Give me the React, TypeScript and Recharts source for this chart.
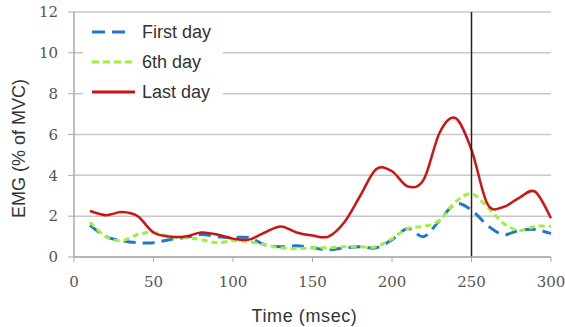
import React from 'react';
import { LineChart, Line, XAxis, YAxis, CartesianGrid, ReferenceLine, Legend } from 'recharts';

const times = [10, 20, 30, 40, 50, 60, 70, 80, 90, 100, 110, 120, 130, 140, 150, 160, 170, 180, 190, 200, 210, 220, 230, 240, 250, 260, 270, 280, 290, 300];
const firstDay = [1.55, 1.0, 0.8, 0.7, 0.7, 0.85, 0.95, 1.1, 1.0, 0.95, 0.95, 0.6, 0.5, 0.55, 0.45, 0.35, 0.45, 0.5, 0.45, 0.85, 1.4, 1.0, 1.8, 2.6, 2.3, 1.55, 1.1, 1.3, 1.35, 1.15];
const sixthDay = [1.7, 1.0, 0.8, 1.1, 1.2, 1.0, 0.95, 0.85, 0.7, 0.8, 0.75, 0.6, 0.45, 0.4, 0.45, 0.45, 0.5, 0.5, 0.5, 0.9, 1.4, 1.5, 1.8, 2.7, 3.1, 2.45, 1.65, 1.3, 1.5, 1.5];
const lastDay = [2.25, 2.05, 2.2, 2.0, 1.2, 1.0, 1.0, 1.2, 1.1, 0.9, 0.85, 1.2, 1.5, 1.2, 1.05, 1.0, 1.7, 3.0, 4.3, 4.2, 3.45, 3.8, 6.1, 6.8, 5.25, 2.6, 2.45, 2.9, 3.2, 1.9];
const xTicks = [0, 50, 100, 150, 200, 250, 300];
const yTicks = [0, 2, 4, 6, 8, 10, 12];
const markerTime = 250;

const seriesNames = ['First day', '6th day', 'Last day'];
const BLUE = '#1f78cc';
const GREEN = '#9ff03a';
const RED = '#cc1414';

const data = times.map((t, i) => ({ t, first: firstDay[i], sixth: sixthDay[i], last: lastDay[i] }));

const serif = '"DejaVu Serif", "Liberation Serif", serif';
const sans = '"Liberation Sans", Arial, sans-serif';

// Excel-style smoothed line (uniform Catmull-Rom through the points)
function excelSmooth(context: any) {
  let pts: number[][] = [];
  return {
    areaStart() {},
    areaEnd() {},
    lineStart() {
      pts = [];
    },
    point(x: number, y: number) {
      pts.push([+x, +y]);
    },
    lineEnd() {
      if (!pts.length) return;
      context.moveTo(pts[0][0], pts[0][1]);
      for (let i = 0; i < pts.length - 1; i++) {
        const p0 = pts[i - 1] || pts[i];
        const p1 = pts[i];
        const p2 = pts[i + 1];
        const p3 = pts[i + 2] || p2;
        context.bezierCurveTo(
          p1[0] + (p2[0] - p0[0]) / 6,
          p1[1] + (p2[1] - p0[1]) / 6,
          p2[0] - (p3[0] - p1[0]) / 6,
          p2[1] - (p3[1] - p1[1]) / 6,
          p2[0],
          p2[1]
        );
      }
    },
  };
}

const legendItems = [
  { name: seriesNames[0], color: BLUE, dash: '13 7', len: 33 },
  { name: seriesNames[1], color: GREEN, dash: '7 4', len: 43 },
  { name: seriesNames[2], color: RED, dash: undefined, len: 43 },
];

const LegendContent = () => (
  <svg width={140} height={92} style={{ display: 'block', background: '#fff' }}>
    {legendItems.map((it, i) => {
      const y = 15 + i * 30;
      return (
        <g key={it.name}>
          <line x1={9} x2={9 + it.len} y1={y} y2={y} stroke={it.color} strokeWidth={3} strokeDasharray={it.dash} />
          <text x={59} y={y} dy="0.35em" style={{ fontFamily: sans, fontSize: 18 }} fill="#333">{it.name}</text>
        </g>
      );
    })}
  </svg>
);

const renderXTick = (props: any) => {
  const { x, y, payload } = props;
  return (
    <text key={`xt-${payload.value}`} x={x} y={y} dy="0.71em" textAnchor="middle" fontFamily={serif} fontSize={15} fill="#555">
      {payload.value}
    </text>
  );
};

const renderYTick = (props: any) => {
  const { x, y, payload } = props;
  return (
    <text key={`yt-${payload.value}`} x={x} y={y} dy="0.35em" textAnchor="end" fontFamily={serif} fontSize={15} fill="#555">
      {payload.value}
    </text>
  );
};

const YTitle = (props: any) => {
  const vb = props.viewBox || { x: 0, y: 12, width: 74, height: 245 };
  const cx = 19;
  const cy = vb.y + vb.height / 2 + 14;
  return (
    <text x={cx} y={cy} transform={`rotate(-90, ${cx}, ${cy})`} textAnchor="middle" dominantBaseline="central" style={{ fontFamily: sans, fontSize: 18 }} fill="#333">
      EMG (% of MVC)
    </text>
  );
};

const XTitle = (props: any) => {
  const vb = props.viewBox || { x: 74, y: 257, width: 477, height: 70 };
  const cx = vb.x + vb.width / 2 - 8;
  const cy = vb.y + 59;
  return (
    <text x={cx} y={cy} textAnchor="middle" dominantBaseline="central" style={{ fontFamily: sans, fontSize: 18, letterSpacing: 0.6 }} fill="#333">
      Time (msec)
    </text>
  );
};

export default function App() {
  return (
    <div style={{ position: 'absolute', left: 0, top: 0, background: '#fff', fontFamily: serif }}>
      <LineChart width={565} height={327} data={data} margin={{ top: 12, right: 14, bottom: 0, left: 0 }}>
        <CartesianGrid vertical={false} stroke="#c8c8c8" strokeWidth={1.5} />
        <XAxis
          dataKey="t"
          type="number"
          domain={[0, 300]}
          ticks={xTicks}
          height={70}
          tickSize={5}
          tickMargin={14}
          tick={renderXTick}
          axisLine={{ stroke: '#aaa', strokeWidth: 1.5 }}
          tickLine={{ stroke: '#aaa' }}
          label={<XTitle />}
        />
        <YAxis
          domain={[0, 12]}
          ticks={yTicks}
          width={74}
          tickSize={6}
          tickMargin={10}
          tick={renderYTick}
          axisLine={{ stroke: '#aaa', strokeWidth: 1.5 }}
          tickLine={{ stroke: '#aaa' }}
          label={<YTitle />}
        />
        <Legend
          layout="vertical"
          align="center"
          verticalAlign="middle"
          content={<LegendContent />}
          wrapperStyle={{ left: 83, top: 17, width: 140, height: 92 }}
        />
        <Line type={excelSmooth as any} dataKey="first" name={seriesNames[0]} stroke={BLUE} strokeWidth={3} strokeDasharray="12 7" dot={false} isAnimationActive={false} />
        <Line type={excelSmooth as any} dataKey="sixth" name={seriesNames[1]} stroke={GREEN} strokeWidth={3} strokeDasharray="6 4" dot={false} isAnimationActive={false} />
        <Line type={excelSmooth as any} dataKey="last" name={seriesNames[2]} stroke={RED} strokeWidth={2.5} dot={false} isAnimationActive={false} />
        <ReferenceLine x={markerTime} stroke="#222" strokeWidth={1.5} />
      </LineChart>
    </div>
  );
}
